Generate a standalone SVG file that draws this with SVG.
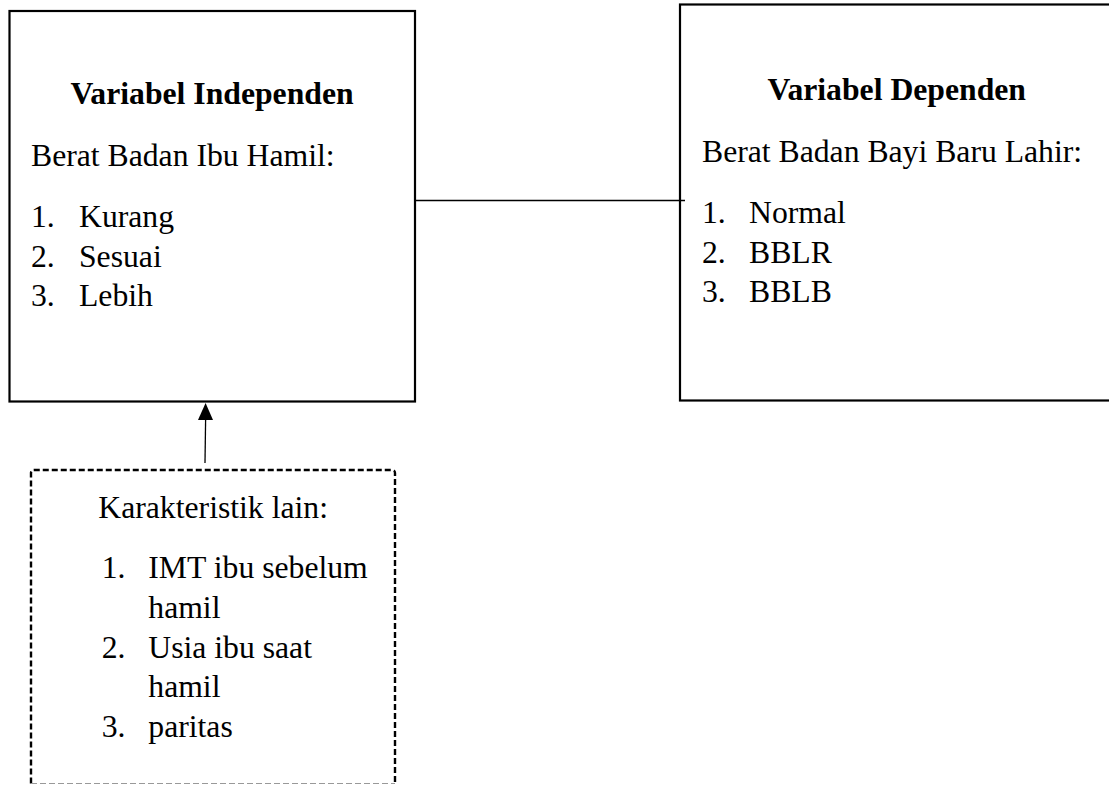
<svg xmlns="http://www.w3.org/2000/svg" width="1109" height="786" viewBox="0 0 1109 786">
<style>
text{font-family:"Liberation Serif","Times New Roman",serif;font-size:31.7px;fill:#000}
.b{font-weight:bold}
.box{fill:none;stroke:#000;stroke-width:2.2}
.dash{fill:none;stroke:#000;stroke-width:2.4;stroke-dasharray:6 3}
.line{stroke:#000;stroke-width:1.3;fill:none}
</style>
<rect width="1109" height="786" fill="#fff"/>
<g id="connectors">
<line class="line" x1="415" y1="200.5" x2="685" y2="200.5"/>
<path d="M205 463 L205.6 420" class="line"/>
<path d="M205.6 403 L213 420 L198 420 Z" fill="#000"/>
</g>
<g id="independen">
<rect class="box" x="9.5" y="11" width="405.5" height="390.5"/>
<text class="b" x="212" y="104.3" text-anchor="middle">Variabel Independen</text>
<text x="31" y="166">Berat Badan Ibu Hamil:</text>
<text x="31" y="226.7">1.</text><text x="79" y="226.7">Kurang</text>
<text x="31" y="266.5">2.</text><text x="79" y="266.5">Sesuai</text>
<text x="31" y="306">3.</text><text x="79" y="306">Lebih</text>
</g>
<g id="dependen">
<rect class="box" x="680" y="4.5" width="440" height="396"/>
<text class="b" x="896.7" y="100" text-anchor="middle">Variabel Dependen</text>
<text x="702" y="161.7">Berat Badan Bayi Baru Lahir:</text>
<text x="702" y="222.7">1.</text><text x="749" y="222.7">Normal</text>
<text x="702" y="262.7">2.</text><text x="749" y="262.7">BBLR</text>
<text x="702" y="302">3.</text><text x="749" y="302">BBLB</text>
</g>
<g id="karakteristik">
<path class="dash" d="M31 783.5 L31 473 Q31 470 34 470 L392 470 Q395 470 395 473 L395 783.5"/>
<line x1="31" y1="783.5" x2="395" y2="783.5" stroke="#999" stroke-width="1.2" stroke-dasharray="6 3"/>
<text x="98.3" y="517.7">Karakteristik lain:</text>
<text x="101.7" y="578.3">1.</text><text x="148.3" y="578.3">IMT ibu sebelum</text>
<text x="148.3" y="617.7">hamil</text>
<text x="101.7" y="658.3">2.</text><text x="148.3" y="658.3">Usia ibu saat</text>
<text x="148.3" y="696.7">hamil</text>
<text x="101.7" y="736.7">3.</text><text x="148.3" y="736.7">paritas</text>
</g>
</svg>
